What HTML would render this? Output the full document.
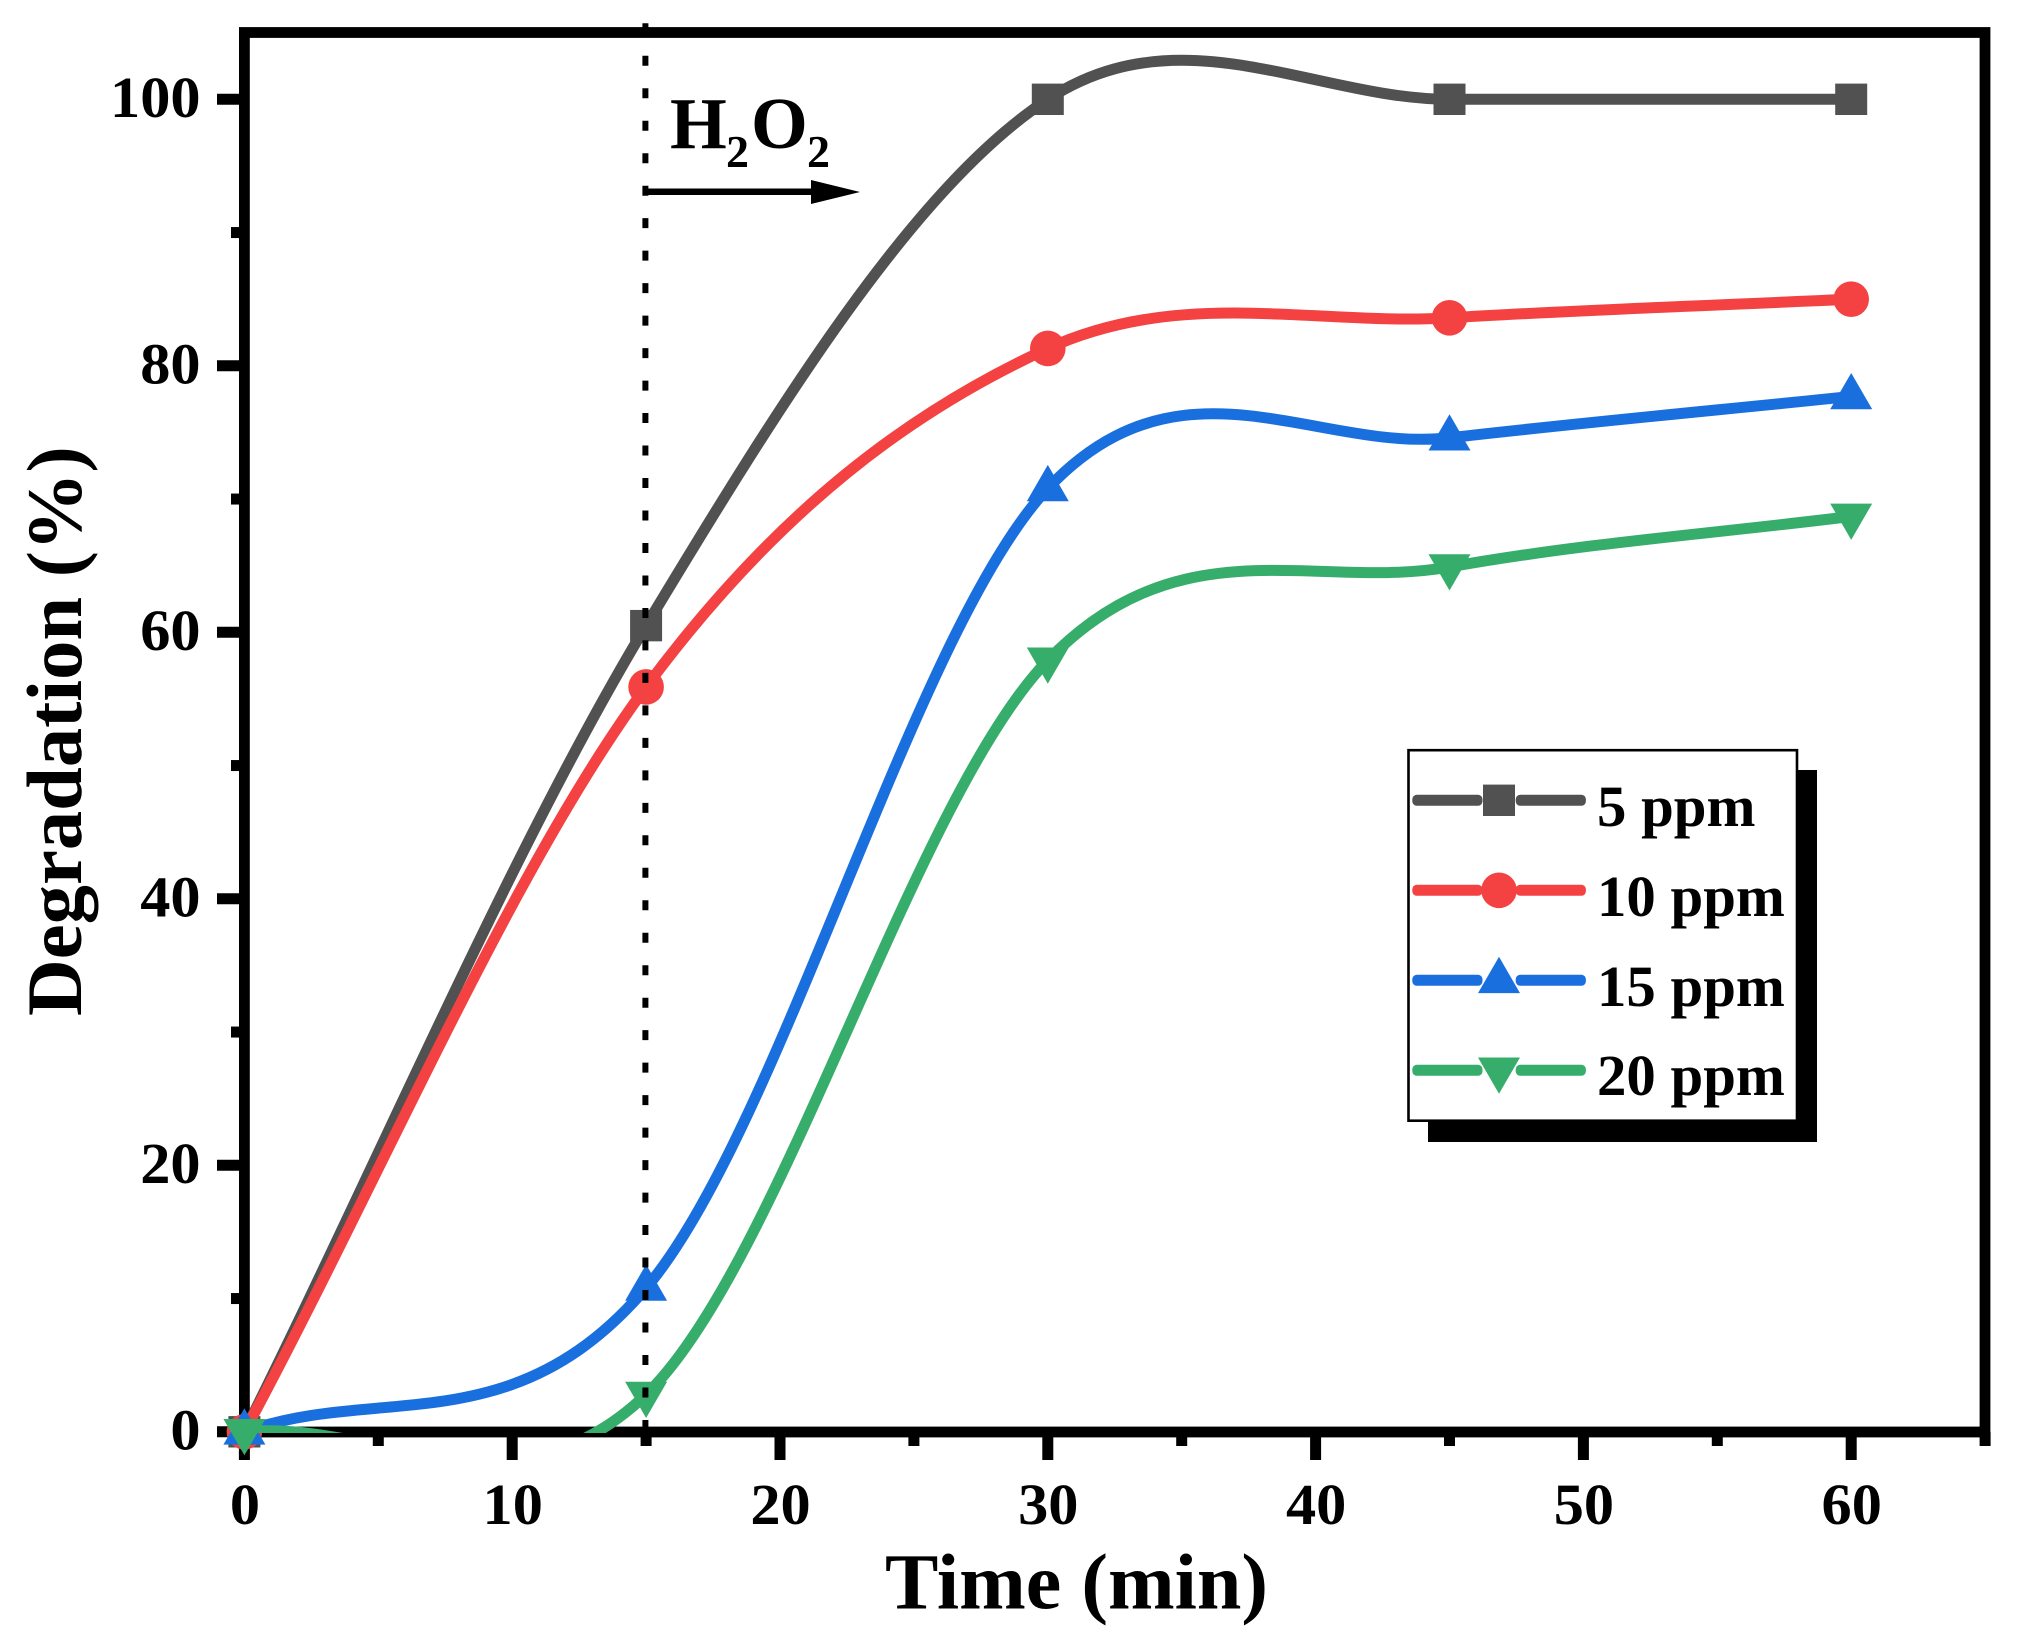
<!DOCTYPE html>
<html lang="en">
<head>
<meta charset="utf-8">
<title>Degradation vs Time</title>
<style>
  html, body { margin: 0; padding: 0; background: #fff; }
  svg { display: block; }
  text { font-family: "Liberation Serif", serif; font-weight: bold; fill: #000; }
</style>
</head>
<body>
<svg id="chart" xmlns="http://www.w3.org/2000/svg" width="2037" height="1643" viewBox="0 0 2037 1643">
  <defs>
    <clipPath id="plot-clip"><rect x="244" y="0" width="1745" height="1433"></rect></clipPath>
  </defs>
  <rect x="0" y="0" width="2037" height="1643" fill="#fff"></rect>
  <g id="ticks"></g>
  <rect x="244.4" y="32.5" width="1740.6" height="1399.5" fill="none" stroke="#000" stroke-width="10.8"></rect>
  <g id="tick-labels" font-size="58"></g>
  <text transform="translate(885 1608.5) scale(1.013 1)" font-size="79">Time (min)</text>
  <text transform="translate(81 1016) rotate(-90)" font-size="78.6">Degradation (%)</text>
  <g id="series"></g>
  <line x1="645.4" y1="23.3" x2="645.4" y2="1428" stroke="#000" stroke-width="6" stroke-dasharray="10 22.48"></line>
  <g>
    <text x="670" y="148" font-size="73">H</text>
    <text x="726" y="167" font-size="46">2</text>
    <text x="751" y="148" font-size="73">O</text>
    <text x="807" y="167" font-size="46">2</text>
    <rect x="645" y="188.5" width="170" height="6.5" fill="#000"></rect>
    <polygon points="811,180 860,192 811,204" fill="#000"></polygon>
  </g>
  <g id="legend">
    <rect x="1428" y="770" width="389" height="372" fill="#000"></rect>
    <rect x="1408.5" y="750.2" width="388.5" height="370.5" fill="#fff" stroke="#000" stroke-width="2.6"></rect>
  </g>
</svg>
<script>
// Chart data
const times = [0, 15, 30, 45, 60];
const series5ppm = [0, 60.5, 100, 100, 100];
const series10ppm = [0, 55.9, 81.3, 83.6, 85];
const series15ppm = [0, 10.8, 70.8, 74.6, 77.7];
const series20ppm = [0, 2.8, 57.9, 64.9, 68.7];
const seriesLabels = ['5 ppm', '10 ppm', '15 ppm', '20 ppm'];
const seriesColors = ['#515151', '#F44242', '#1A6FDF', '#37AD6B'];
const seriesShapes = ['square', 'circle', 'triangle-up', 'triangle-down'];
const xMajorTicks = [0, 10, 20, 30, 40, 50, 60];
const xMinorTicks = [5, 15, 25, 35, 45, 55, 65];
const yMajorTicks = [0, 20, 40, 60, 80, 100];
const yMinorTicks = [10, 30, 50, 70, 90];

const NS = 'http://www.w3.org/2000/svg';

function xScale(v) { return 244.4 + v * 26.78; }
function yScale(v) { return 1431.8 - v * 13.325; }

function make(tag, parent) {
  const el = document.createElementNS(NS, tag);
  parent.appendChild(el);
  return el;
}

function tangents(xs, ys) {
  const n = xs.length;
  const m = [];
  for (let i = 0; i < n; i++) {
    if (i === 0) m.push((ys[1] - ys[0]) / (xs[1] - xs[0]));
    else if (i === n - 1) m.push((ys[n - 1] - ys[n - 2]) / (xs[n - 1] - xs[n - 2]));
    else m.push((ys[i + 1] - ys[i - 1]) / (xs[i + 1] - xs[i - 1]));
  }
  return m;
}

function curvePath(xs, ys) {
  const m = tangents(xs, ys);
  let d = 'M' + xScale(xs[0]) + ' ' + yScale(ys[0]);
  for (let i = 0; i < xs.length - 1; i++) {
    const h = xs[i + 1] - xs[i];
    const c1x = xs[i] + h / 3;
    const c1y = ys[i] + m[i] * h / 3;
    const c2x = xs[i + 1] - h / 3;
    const c2y = ys[i + 1] - m[i + 1] * h / 3;
    d += ' C' + xScale(c1x) + ' ' + yScale(c1y) + ' ' + xScale(c2x) + ' ' + yScale(c2y) + ' ' + xScale(xs[i + 1]) + ' ' + yScale(ys[i + 1]);
  }
  return d;
}

function drawMarker(parent, shape, cx, cy, color) {
  let el;
  if (shape === 'square') {
    el = make('rect', parent);
    el.setAttribute('x', cx - 16);
    el.setAttribute('y', cy - 15.7);
    el.setAttribute('width', 32);
    el.setAttribute('height', 31.4);
  } else if (shape === 'circle') {
    el = make('circle', parent);
    el.setAttribute('cx', cx);
    el.setAttribute('cy', cy);
    el.setAttribute('r', 17.8);
  } else if (shape === 'triangle-up') {
    el = make('polygon', parent);
    el.setAttribute('points', (cx - 21) + ',' + (cy + 12.8) + ' ' + cx + ',' + (cy - 23.5) + ' ' + (cx + 21) + ',' + (cy + 12.8));
  } else {
    el = make('polygon', parent);
    el.setAttribute('points', (cx - 21) + ',' + (cy - 12.8) + ' ' + cx + ',' + (cy + 23.5) + ' ' + (cx + 21) + ',' + (cy - 12.8));
  }
  el.setAttribute('fill', color);
  
  
}

// Ticks
const tickGroup = document.getElementById('ticks');
function tickLine(x1, y1, x2, y2, name) {
  const t = make('line', tickGroup);
  t.setAttribute('x1', x1);
  t.setAttribute('y1', y1);
  t.setAttribute('x2', x2);
  t.setAttribute('y2', y2);
  t.setAttribute('stroke', '#000');
  t.setAttribute('stroke-width', 11);
  
  
}
xMajorTicks.forEach(function (v) { tickLine(xScale(v), 1432, xScale(v), 1460, 'x-major-tick'); });
xMinorTicks.forEach(function (v) { tickLine(xScale(v), 1432, xScale(v), 1446, 'x-minor-tick'); });
yMajorTicks.forEach(function (v) { tickLine(217, yScale(v), 244, yScale(v), 'y-major-tick'); });
yMinorTicks.forEach(function (v) { tickLine(231, yScale(v), 244, yScale(v), 'y-minor-tick'); });

// Tick labels
const labelGroup = document.getElementById('tick-labels');
xMajorTicks.forEach(function (v) {
  const t = make('text', labelGroup);
  t.setAttribute('transform', 'translate(' + (xScale(v) + 0.5) + ' 1524) scale(1.04 1)');
  t.setAttribute('text-anchor', 'middle');
  
  
  t.textContent = String(v);
});
yMajorTicks.forEach(function (v) {
  const t = make('text', labelGroup);
  t.setAttribute('transform', 'translate(200.5 ' + (yScale(v) + 17.5) + ') scale(1.04 1)');
  t.setAttribute('text-anchor', 'end');
  
  
  t.textContent = String(v);
});

// Series
const allSeries = [series5ppm, series10ppm, series15ppm, series20ppm];
const seriesGroup = document.getElementById('series');
allSeries.forEach(function (vals, idx) {
  const g = make('g', seriesGroup);
  
  
  const p = make('path', g);
  p.setAttribute('d', curvePath(times, vals));
  p.setAttribute('fill', 'none');
  p.setAttribute('stroke', seriesColors[idx]);
  p.setAttribute('stroke-width', 11);
  p.setAttribute('clip-path', 'url(#plot-clip)');
  
  
  vals.forEach(function (v, i) {
    drawMarker(g, seriesShapes[idx], xScale(times[i]), yScale(v), seriesColors[idx]);
  });
});

// Legend
const legend = document.getElementById('legend');
const legendRowYs = 90;
seriesLabels.forEach(function (label, idx) {
  const rowY = 800.3 + idx * legendRowYs;
  const g = make('g', legend);
  
  
  [1412.3, 1515.7].forEach(function (segX) {
    const r = make('rect', g);
    r.setAttribute('x', segX);
    r.setAttribute('y', rowY - 5.5);
    r.setAttribute('width', 70.2);
    r.setAttribute('height', 11);
    r.setAttribute('rx', 4.5);
    r.setAttribute('fill', seriesColors[idx]);
    
    
  });
  drawMarker(g, seriesShapes[idx], 1499, rowY, seriesColors[idx]);
  const t = make('text', g);
  t.setAttribute('transform', 'translate(1597 ' + (rowY + 25.5 - (idx === 3 ? 0.6 : 0)) + ') scale(1.014 1)');
  t.setAttribute('font-size', 58);
  
  
  t.textContent = label;
});
</script>
</body>
</html>
